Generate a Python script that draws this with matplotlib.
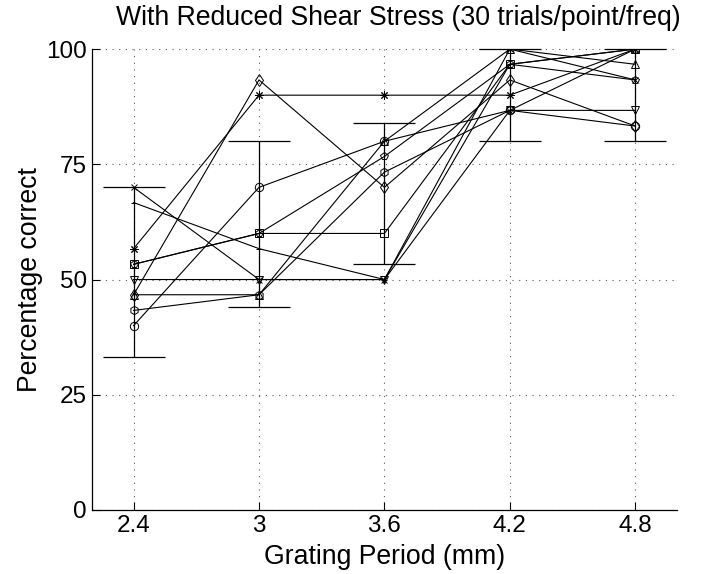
import matplotlib
matplotlib.use('Agg')
import matplotlib.pyplot as plt

plt.rcParams['font.family'] = ['Liberation Sans', 'DejaVu Sans']

# Grating periods (mm)
periods = [2.4, 3.0, 3.6, 4.2, 4.8]
period_labels = ['2.4', '3', '3.6', '4.2', '4.8']

# Percentage correct per subject (one marker style each)
subj_star = [56.7, 90.0, 90.0, 90.0, 100.0]
subj_circle = [40.0, 70.0, 80.0, 86.7, 83.3]
subj_diamond = [46.7, 93.3, 70.0, 93.3, 83.3]
subj_vtri = [50.0, 50.0, 50.0, 86.7, 86.7]
subj_utri = [46.7, 46.7, 80.0, 100.0, 96.7]
subj_hex = [43.3, 46.7, 73.3, 86.7, 100.0]
subj_pent = [53.3, 60.0, 76.7, 96.7, 93.3]
subj_square = [53.3, 60.0, 60.0, 96.7, 100.0]
subj_x = [70.0, 50.0, 50.0, 100.0, 93.3]
subj_plus = [66.7, 56.7, 50.0, 96.7, 100.0]

# Error bar extents
err_low = [33.3, 44.0, 53.3, 80.0, 80.0]
err_high = [70.0, 80.0, 84.0, 100.0, 100.0]

series = [
    (subj_star, (8, 2, 0)), (subj_circle, 'o'), (subj_diamond, 'd'),
    (subj_vtri, 'v'), (subj_utri, '^'), (subj_hex, 'h'),
    (subj_pent, 'p'), (subj_square, 's'), (subj_x, 'x'), (subj_plus, '+'),
]

fig = plt.figure(figsize=(7.06, 5.74), dpi=100)
ax = fig.add_axes([0.130, 0.1115, 0.829, 0.803])

for vals, mk in series:
    ms = 5 if mk in ('x', '+') else 6
    ax.plot(periods, vals, color='black', linewidth=0.8, marker=mk,
            markersize=ms, markerfacecolor='none', markeredgecolor='black',
            markeredgewidth=0.7)

# error bars: vertical line + caps
mids = [(lo + hi) / 2 for lo, hi in zip(err_low, err_high)]
yerr = [[m - lo for m, lo in zip(mids, err_low)],
        [hi - m for m, hi in zip(mids, err_high)]]
ax.errorbar(periods, mids, yerr=yerr, fmt='none', ecolor='black',
            elinewidth=0.9, capsize=22, capthick=0.9, clip_on=False)

ax.set_xlim(2.2, 5.0)
ax.set_ylim(0, 100)
ax.set_xticks(periods)
ax.set_xticklabels(period_labels)
ax.set_yticks([0, 25, 50, 75, 100])

ax.grid(True, linestyle=(0, (1, 5)), color='0.35', linewidth=0.8)
ax.set_axisbelow(True)

for s in ['top', 'right']:
    ax.spines[s].set_visible(False)
for s in ['left', 'bottom']:
    ax.spines[s].set_linewidth(0.9)

ax.tick_params(direction='in', length=6, width=0.8, labelsize=17.5,
               top=False, right=False)

ax.set_title('With Reduced Shear Stress (30 trials/point/freq)',
             fontsize=19.2, pad=17, x=0.523)
ax.set_xlabel('Grating Period (mm)', fontsize=19.2, labelpad=5)
ax.set_ylabel('Percentage correct', fontsize=19.2, labelpad=2)

fig.savefig('out.png', dpi=100, facecolor='white')
